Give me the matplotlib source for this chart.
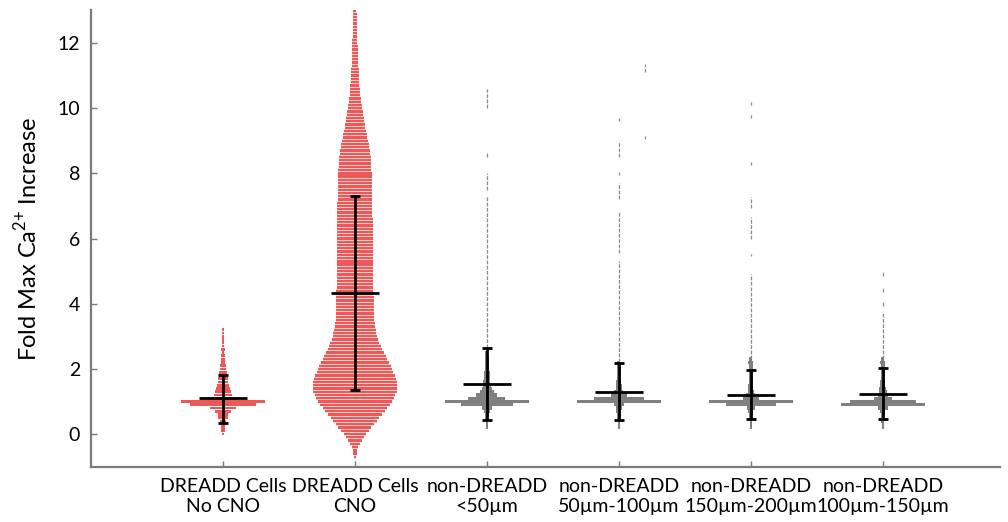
import numpy as np
import matplotlib
matplotlib.use("Agg")
from matplotlib import pyplot as plt

# categories
groups = ["DREADD Cells\nNo CNO", "DREADD Cells\nCNO", "non-DREADD\n<50µm",
          "non-DREADD\n50µm-100µm", "non-DREADD\n150µm-200µm", "non-DREADD\n100µm-150µm"]

# mean and error bar ends per group
means = [1.10, 4.32, 1.53, 1.29, 1.20, 1.22]
err_hi = [1.81, 7.30, 2.63, 2.17, 1.96, 2.02]
err_lo = [0.34, 1.36, 0.43, 0.43, 0.46, 0.46]

BIN = 0.1  # histogram bin height (fold units)

# red distributions: first bin centre + half-widths of each 0.1 bin
no_cno_start = 0.0
no_cno_half = [0.01, 0.012, 0.012, 0.015, 0.025, 0.035, 0.04, 0.06, 0.10,
               0.25, 0.32, 0.10, 0.07, 0.06, 0.05, 0.045, 0.04, 0.035, 0.03,
               0.03, 0.025, 0.02, 0.015, 0.012, 0.012, 0.01, 0.012, 0.01, 0.01,
               0.01, 0.01, 0.008, 0.008]

cno_start = -0.7
cno_half = [0.008, 0.012, 0.018, 0.025, 0.035, 0.05, 0.065, 0.085, 0.105, 0.125,
            0.145, 0.165, 0.185, 0.205, 0.225, 0.245, 0.265, 0.28, 0.295, 0.305,
            0.315, 0.32, 0.318, 0.315, 0.31, 0.30, 0.29, 0.28, 0.27, 0.258,
            0.245, 0.232, 0.22, 0.207, 0.196, 0.186, 0.177, 0.17, 0.163, 0.157,
            0.152, 0.149, 0.147, 0.145, 0.144, 0.143, 0.142, 0.142, 0.141, 0.141,
            0.14, 0.14, 0.139, 0.139, 0.138, 0.138, 0.138, 0.137, 0.137, 0.137,
            0.136, 0.136, 0.136, 0.136, 0.135, 0.135, 0.135, 0.135, 0.135, 0.134,
            0.134, 0.134, 0.134, 0.134, 0.133, 0.133, 0.133, 0.133, 0.133, 0.132,
            0.132, 0.132, 0.131, 0.13, 0.13, 0.129, 0.128, 0.126, 0.125, 0.123,
            0.121, 0.12, 0.118, 0.116, 0.113, 0.109, 0.104, 0.099, 0.094, 0.089,
            0.084, 0.079, 0.074, 0.07, 0.066, 0.062, 0.058, 0.054, 0.05, 0.047,
            0.044, 0.041, 0.038, 0.036, 0.034, 0.032, 0.03, 0.029, 0.028, 0.027,
            0.026, 0.025, 0.024, 0.023, 0.022, 0.021, 0.02, 0.019, 0.019, 0.018,
            0.018, 0.017, 0.016, 0.015, 0.014, 0.013, 0.012, 0.011]

# grey distributions (non-DREADD), core bins start at 0.2
lt50_half = [0.008, 0.01, 0.01, 0.012, 0.015, 0.02, 0.035, 0.2, 0.32, 0.14,
             0.08, 0.05, 0.035, 0.03, 0.026, 0.024, 0.022, 0.02, 0.018, 0.016,
             0.015, 0.014, 0.013, 0.012]
d50_100_half = [0.006, 0.008, 0.01, 0.012, 0.014, 0.018, 0.025, 0.04, 0.32, 0.19,
                0.06, 0.035, 0.025, 0.02, 0.018, 0.016, 0.015, 0.014, 0.013, 0.012,
                0.012]
d150_200_half = [0.006, 0.008, 0.01, 0.012, 0.015, 0.02, 0.03, 0.19, 0.32, 0.06,
                 0.035, 0.025, 0.02, 0.018, 0.016, 0.015, 0.014, 0.013, 0.013, 0.015,
                 0.02, 0.012]
d100_150_half = [0.006, 0.008, 0.01, 0.012, 0.015, 0.02, 0.04, 0.32, 0.25, 0.07,
                 0.04, 0.03, 0.025, 0.02, 0.018, 0.016, 0.015, 0.014, 0.013, 0.015,
                 0.02, 0.012]
grey_start = 0.2

# sparse upper tails: (low, high) value ranges that hold single cells
lt50_tail = [(2.5, 7.3), (7.5, 8.0), (8.5, 8.65), (10.0, 10.6)]
d50_100_tail = [(2.2, 5.3), (5.55, 6.8), (7.2, 7.7), (7.95, 8.05), (8.5, 8.95), (9.6, 9.7)]
d50_100_jitter = [(9.05, 9.15), (11.1, 11.35)]
d150_200_tail = [(2.3, 4.5), (4.57, 4.9), (5.45, 5.52), (5.98, 6.65), (6.93, 7.27),
                 (8.25, 8.35), (9.7, 9.8), (10.1, 10.2)]
d100_150_tail = [(2.3, 3.75), (3.93, 4.08), (4.35, 4.5), (4.85, 5.0)]

RED = "#ee3a3a"
GREY = "#808080"
AXC = "#7a7a7a"

plt.rcParams['font.family'] = ['Lato', 'DejaVu Sans']
plt.rcParams['mathtext.fontset'] = 'custom'
plt.rcParams['mathtext.rm'] = 'Lato'

fig = plt.figure(figsize=(10.08, 5.22), dpi=100)
ax = fig.add_axes([0.0903, 0.106, 0.902, 0.874])


def draw_hist(x, start, half, color, height, alpha):
    half = np.asarray(half)
    levels = start + BIN * np.arange(len(half))
    ax.barh(levels, 2 * half, left=x - half, height=height, color=color,
            alpha=alpha, linewidth=0, zorder=2)


def draw_tail(x, segs):
    for lo, hi in segs:
        ax.vlines(x, lo, hi, color="#8a8a8a", lw=0.9, linestyles=(0, (3, 1.2)), zorder=1.5)


xs = np.arange(1, len(groups) + 1)

draw_hist(xs[0], no_cno_start, no_cno_half, RED, 0.085, 0.85)
draw_hist(xs[1], cno_start, cno_half, RED, 0.07, 0.8)
draw_hist(xs[1], cno_start, cno_half, RED, 0.1, 0.25)

for x, h, tail in zip(xs[2:], [lt50_half, d50_100_half, d150_200_half, d100_150_half],
                      [lt50_tail, d50_100_tail, d150_200_tail, d100_150_tail]):
    draw_hist(x, grey_start, h, GREY, 0.1, 1.0)
    draw_tail(x, tail)
draw_tail(xs[3] + 0.2, d50_100_jitter)

# mean + error bars
ax.vlines(xs, err_lo, err_hi, color="black", lw=2.0, zorder=4)
ax.hlines(means, xs - 0.18, xs + 0.18, color="black", lw=2.0, zorder=4)
ax.hlines(err_hi, xs - 0.04, xs + 0.04, color="black", lw=2.0, zorder=4)
ax.hlines(err_lo, xs - 0.04, xs + 0.04, color="black", lw=2.0, zorder=4)

ax.set_xlim(0, 6.89)
ax.set_ylim(-1, 13)
ax.set_yticks(np.arange(0, 13, 2))
ax.set_xticks(xs)
ax.set_xticklabels(groups, fontsize=14, linespacing=1.25)
ax.tick_params(axis='y', labelsize=14)
ax.tick_params(direction='in', length=4, width=1, color=AXC, pad=8)
ax.set_ylabel("Fold Max Ca$^{2{+}}$ Increase", fontsize=17, labelpad=12)

for side in ['top', 'right']:
    ax.spines[side].set_visible(False)
for side in ['left', 'bottom']:
    ax.spines[side].set_color(AXC)
    ax.spines[side].set_linewidth(1.6)

fig.savefig("out.png", dpi=100)
